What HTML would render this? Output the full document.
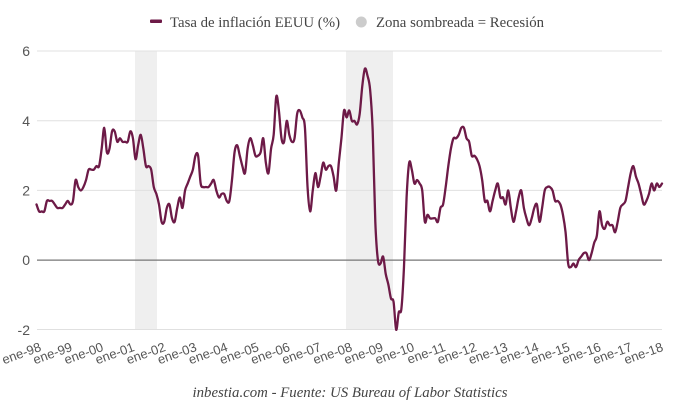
<!DOCTYPE html>
<html>
<head>
<meta charset="utf-8">
<style>
html,body{margin:0;padding:0;background:#fff;}
body{width:680px;height:407px;overflow:hidden;}
svg{display:block;}
.yl{font-family:"Liberation Sans",sans-serif;font-size:14px;fill:#555;text-anchor:end;}
.xl{font-family:"Liberation Sans",sans-serif;font-size:13px;fill:#555;text-anchor:end;}
.lg{font-family:"Liberation Serif",serif;font-size:15px;fill:#444;}
.ft{font-family:"Liberation Serif",serif;font-size:15px;font-style:italic;fill:#444;}
</style>
</head>
<body>
<svg id="c" width="680" height="407" viewBox="0 0 680 407" xmlns="http://www.w3.org/2000/svg">
  <!-- recession bands -->
  <rect x="135" y="51" width="22" height="278.5" fill="#efefef"/>
  <rect x="346" y="51" width="47" height="278.5" fill="#efefef"/>
  <!-- grid -->
  <line x1="37" y1="51" x2="662" y2="51" stroke="#e0e0e0" stroke-width="1"/>
  <line x1="37" y1="120.7" x2="662" y2="120.7" stroke="#e0e0e0" stroke-width="1"/>
  <line x1="37" y1="190.4" x2="662" y2="190.4" stroke="#e0e0e0" stroke-width="1"/>
  <line x1="37" y1="329.5" x2="662" y2="329.5" stroke="#e0e0e0" stroke-width="1"/>
  <line x1="37" y1="260.1" x2="662" y2="260.1" stroke="#777" stroke-width="1.2"/>
  <!-- y labels -->
  <text class="yl" x="30" y="56">6</text>
  <text class="yl" x="30" y="126">4</text>
  <text class="yl" x="30" y="195.5">2</text>
  <text class="yl" x="30" y="265">0</text>
  <text class="yl" x="30" y="335">-2</text>
  <!-- series -->
  <path id="ln" d="" fill="none" stroke="#6d1a47" stroke-width="2.3" stroke-linejoin="round" stroke-linecap="round"/>
  <!-- x labels -->
  <g id="xlabels"></g>
  <!-- legend -->
  <rect x="150" y="19.5" width="12" height="3.5" fill="#6d1a47" rx="1"/>
  <text class="lg" x="170" y="27" textLength="170" lengthAdjust="spacingAndGlyphs">Tasa de inflación EEUU (%)</text>
  <circle cx="361.3" cy="22" r="5.5" fill="#cccccc"/>
  <text class="lg" x="376" y="27" textLength="168" lengthAdjust="spacingAndGlyphs">Zona sombreada = Recesión</text>
  <!-- footer -->
  <text class="ft" x="192.5" y="397" textLength="315" lengthAdjust="spacingAndGlyphs">inbestia.com - Fuente: US Bureau of Labor Statistics</text>
</svg>
<script>
(function(){
var d=[
1.6,1.4,1.4,1.4,1.7,1.7,1.7,1.6,1.5,1.5,1.5,1.6,
1.7,1.6,1.7,2.3,2.1,2.0,2.1,2.3,2.6,2.6,2.6,2.7,
2.7,3.2,3.8,3.1,3.2,3.7,3.7,3.4,3.5,3.4,3.4,3.4,
3.7,3.5,2.9,3.3,3.6,3.2,2.7,2.7,2.6,2.1,1.9,1.6,
1.1,1.1,1.5,1.6,1.2,1.1,1.5,1.8,1.5,2.0,2.2,2.4,
2.6,3.0,3.0,2.2,2.1,2.1,2.1,2.2,2.3,2.0,1.8,1.9,
1.9,1.7,1.7,2.3,3.1,3.3,3.0,2.7,2.5,3.2,3.5,3.3,
3.0,3.0,3.1,3.5,2.8,2.5,3.2,3.6,4.7,4.3,3.5,3.4,
4.0,3.6,3.4,3.5,4.2,4.3,4.1,3.8,2.1,1.4,2.0,2.5,
2.1,2.4,2.8,2.6,2.7,2.7,2.4,2.0,2.8,3.5,4.3,4.1,
4.3,4.0,4.0,3.9,4.2,5.0,5.5,5.3,4.9,3.7,1.1,0.0,
-0.1,0.1,-0.4,-0.7,-1.1,-1.2,-2.0,-1.5,-1.4,-0.2,1.8,2.8,
2.6,2.2,2.3,2.2,2.0,1.1,1.3,1.2,1.2,1.2,1.1,1.5,
1.6,2.1,2.7,3.2,3.5,3.5,3.6,3.8,3.8,3.5,3.4,3.0,
3.0,2.9,2.7,2.3,1.7,1.7,1.4,1.7,2.0,2.2,1.8,1.8,
1.6,2.0,1.5,1.1,1.4,1.8,2.0,1.5,1.2,1.0,1.2,1.5,
1.6,1.1,1.5,2.0,2.1,2.1,2.0,1.7,1.7,1.6,1.3,0.8,
-0.1,-0.2,-0.1,-0.2,0.0,0.1,0.2,0.2,0.0,0.2,0.5,0.7,
1.4,1.0,0.9,1.1,1.0,1.0,0.8,1.1,1.5,1.6,1.7,2.1,
2.5,2.7,2.4,2.2,1.9,1.6,1.7,1.9,2.2,2.0,2.2,2.1,
2.2];
var n=d.length, pts=[];
for(var i=0;i<n;i++){pts.push([36.5+i*625.5/(n-1),260.1-d[i]*34.8]);}
var s="M"+pts[0][0].toFixed(2)+","+pts[0][1].toFixed(2);
for(var i=0;i<n-1;i++){
 var p0=pts[i-1]||pts[i],p1=pts[i],p2=pts[i+1],p3=pts[i+2]||pts[i+1];
 var c1x=p1[0]+(p2[0]-p0[0])/6,c1y=p1[1]+(p2[1]-p0[1])/6;
 var c2x=p2[0]-(p3[0]-p1[0])/6,c2y=p2[1]-(p3[1]-p1[1])/6;
 s+=" C"+c1x.toFixed(2)+","+c1y.toFixed(2)+" "+c2x.toFixed(2)+","+c2y.toFixed(2)+" "+p2[0].toFixed(2)+","+p2[1].toFixed(2);
}
document.getElementById("ln").setAttribute("d",s);
var g=document.getElementById("xlabels"),ns="http://www.w3.org/2000/svg";
var yrs=["98","99","00","01","02","03","04","05","06","07","08","09","10","11","12","13","14","15","16","17","18"];
for(var k=0;k<yrs.length;k++){
 var x=42+k*31.1, y=350.5;
 var t=document.createElementNS(ns,"text");
 t.setAttribute("class","xl");
 t.setAttribute("x",x.toFixed(2));t.setAttribute("y",y);
 t.setAttribute("transform","rotate(-20 "+x.toFixed(2)+" "+y+")");
 t.textContent="ene-"+yrs[k];
 g.appendChild(t);
}
})();
</script>
</body>
</html>
